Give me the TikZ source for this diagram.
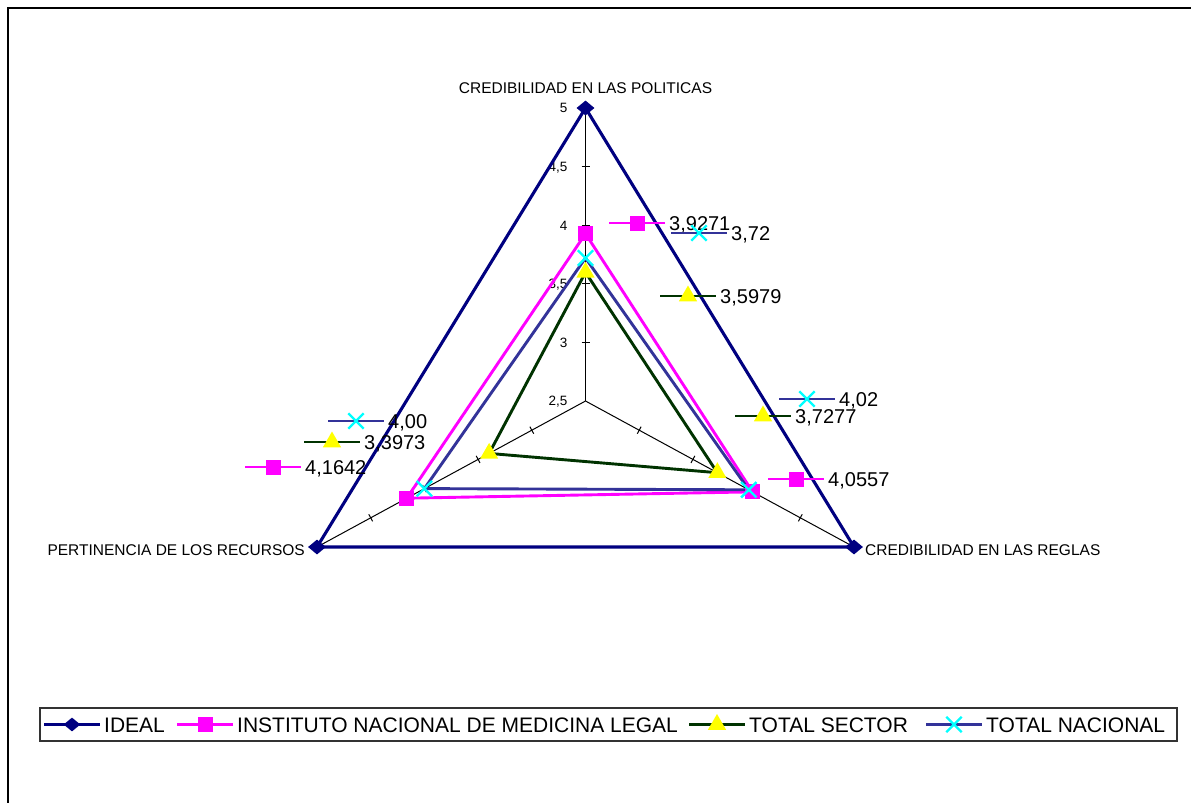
\documentclass[tikz,border=0pt]{standalone}
\usepackage{fontspec}
\setmainfont{Liberation Sans}
\usepackage{xcolor}
\definecolor{radarnavy}{HTML}{000080}
\definecolor{radarpink}{HTML}{FF00FF}
\definecolor{radargreen}{HTML}{003300}
\definecolor{radaryellow}{HTML}{FFFF00}
\definecolor{radarblue}{HTML}{333399}
\definecolor{radarcyan}{HTML}{00FFFF}
\usepackage{tikz}
\usetikzlibrary{%
      calc,%
      shapes.geometric,%
  shapes.misc%
  }

\tikzset{
  lnideal/.style={draw=radarnavy,line width=3.1pt,line join=round},
  lninml/.style={draw=radarpink,line width=2.9pt,line join=round},
  lnsector/.style={draw=radargreen,line width=2.9pt,line join=round},
  lnnacional/.style={draw=radarblue,line width=2.9pt,line join=round},
  mkideal/.style={diamond,fill=radarnavy,inner sep=0pt,minimum width=18pt,minimum height=15pt},
  mkinml/.style={rectangle,fill=radarpink,inner sep=0pt,minimum size=15pt},
  mksector/.style={regular polygon,regular polygon sides=3,fill=radaryellow,inner sep=0pt,minimum size=21pt},
  mknacional/.style={cross out,draw=radarcyan,line width=2.4pt,inner sep=0pt,minimum size=13pt},
  axislabel/.style={font=\fontsize{15.5}{16}\selectfont,inner sep=0pt,text height=11.1pt,text depth=0pt},
  ticklabel/.style={font=\fontsize{13.5}{14}\selectfont,inner sep=0pt,anchor=east,text height=9.7pt,text depth=0pt},
  datalabel/.style={font=\fontsize{20}{20}\selectfont,inner sep=0pt,anchor=west,text height=14.3pt,text depth=0pt},
  legendlabel/.style={font=\fontsize{21}{21}\selectfont,inner sep=0pt,anchor=west,text height=15pt,text depth=0pt},
}

\begin{document}
\begin{tikzpicture}[x=1pt,y=-1pt]
    \useasboundingbox (0,0) rectangle (1191,803);
    \fill[white] (0,0) rectangle (1191,803);
    \draw[line width=1.4pt] (1191,8) -- (8,8) -- (8,803);

    % axes
    \coordinate (ctr) at (585.5,401);
    \coordinate (axpol) at (585.5,108);
    \coordinate (axreg) at (854,547);
    \coordinate (axrec) at (317,547);
    \foreach \ax in {axpol,axreg,axrec}{
      \draw[line width=1pt] (ctr) -- (\ax);
      \foreach \f in {0.2,0.4,0.6,0.8}{
        \coordinate (tk) at ($(ctr)!\f!(\ax)$);
        \draw[line width=1pt] ($(tk)!4pt!90:(\ax)$) -- ($(tk)!4pt!-90:(\ax)$);
      }
    }
    \foreach \t [count=\i from 0] in {{2,5},3,{3,5},4,{4,5},5}
      \node[ticklabel] (tl\i) at ($(ctr)!\i*0.2!(axpol) + (-18,0)$) {\t};

    \node[axislabel] (ttpol) at (585.5,88) {CREDIBILIDAD EN LAS POLITICAS};
    \node[axislabel,anchor=east] (ttrec) at (305,550) {PERTINENCIA DE LOS RECURSOS};
    \node[axislabel,anchor=west] (ttreg) at (865,550) {CREDIBILIDAD EN LAS REGLAS};

    % series
    \coordinate (inmlpol) at ($(ctr)!{(3.9271-2.5)/2.5}!(axpol)$);
    \coordinate (inmlreg) at ($(ctr)!{(4.0557-2.5)/2.5}!(axreg)$);
    \coordinate (inmlrec) at ($(ctr)!{(4.1642-2.5)/2.5}!(axrec)$);
    \coordinate (sectorpol) at ($(ctr)!{(3.5979-2.5)/2.5}!(axpol)$);
    \coordinate (sectorreg) at ($(ctr)!{(3.7277-2.5)/2.5}!(axreg)$);
    \coordinate (sectorrec) at ($(ctr)!{(3.3973-2.5)/2.5}!(axrec)$);
    \coordinate (nacionalpol) at ($(ctr)!{(3.72-2.5)/2.5}!(axpol)$);
    \coordinate (nacionalreg) at ($(ctr)!{(4.02-2.5)/2.5}!(axreg)$);
    \coordinate (nacionalrec) at ($(ctr)!{(4.00-2.5)/2.5}!(axrec)$);

    \draw[lnideal] (axpol) -- (axreg) -- (axrec) -- cycle;
    \draw[lninml] (inmlpol) -- (inmlreg) -- (inmlrec) -- cycle;
    \draw[lnsector] (sectorpol) -- (sectorreg) -- (sectorrec) -- cycle;
    \draw[lnnacional] (nacionalpol) -- (nacionalreg) -- (nacionalrec) -- cycle;

    \foreach \pt in {pol,reg,rec}{
      \node[mkideal] (mi\pt) at (ax\pt) {};
      \node[mkinml] (mm\pt) at (inml\pt) {};
      \node[mksector] (ms\pt) at (sector\pt) {};
      \node[mknacional] (mn\pt) at (nacional\pt) {};
    }

    % data labels
    \foreach \nm/\px/\py/\val/\ln/\mk in {
        dlinmlpol/669/223/{3,9271}/lninml/mkinml,
        dlnacpol/731/233/{3,72}/lnnacional/mknacional,
        dlsecpol/720/296/{3,5979}/lnsector/mksector,
        dlnacreg/839/399/{4,02}/lnnacional/mknacional,
        dlsecreg/795/416/{3,7277}/lnsector/mksector,
        dlinmlreg/828/479/{4,0557}/lninml/mkinml,
        dlnacrec/388/421/{4,00}/lnnacional/mknacional,
        dlsecrec/364/442/{3,3973}/lnsector/mksector,
        dlinmlrec/305/467/{4,1642}/lninml/mkinml}{
      \node[datalabel] (\nm) at (\px,\py) {\val};
      \draw[\ln] ($(\nm.west)+(-60,0)$) -- ($(\nm.west)+(-4,0)$)
        node[midway,\mk] (k\nm) {};
    }

    % legend
    \draw[line width=1.3pt,black!80] (40,708) rectangle (1177,741);
    \foreach \nm/\px/\val/\ln/\mk in {
        lgideal/104/IDEAL/lnideal/mkideal,
        lginml/237/INSTITUTO NACIONAL DE MEDICINA LEGAL/lninml/mkinml,
        lgsector/749/TOTAL SECTOR/lnsector/mksector,
        lgnacional/986/TOTAL NACIONAL/lnnacional/mknacional}{
      \node[legendlabel] (\nm) at (\px,724.5) {\val};
      \draw[\ln] ($(\nm.west)+(-60,0)$) -- ($(\nm.west)+(-4,0)$)
        node[midway,\mk] (k\nm) {};
    }
\end{tikzpicture}
\end{document}
